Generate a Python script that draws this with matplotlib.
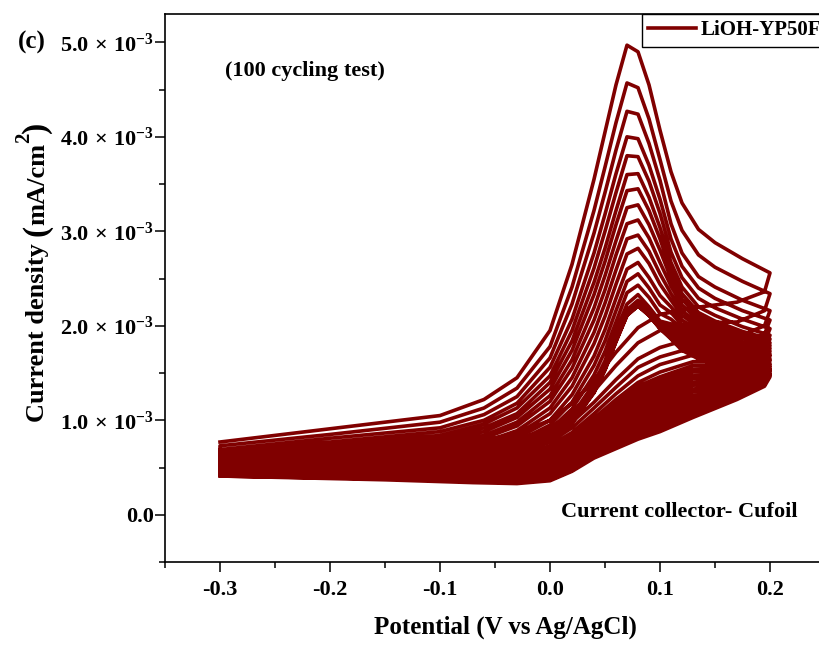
import numpy as np
import matplotlib
matplotlib.use("Agg")
import matplotlib.pyplot as plt
from matplotlib.ticker import MultipleLocator, FuncFormatter

# potential grid of the anodic (forward) and cathodic (reverse) sweeps, V vs Ag/AgCl
E_fwd = [-0.30, -0.20, -0.10, -0.06, -0.03, 0.00, 0.02, 0.04, 0.05, 0.06,
         0.07, 0.08, 0.09, 0.10, 0.11, 0.12, 0.135, 0.15, 0.175, 0.20]
E_rev = [0.195, 0.17, 0.13, 0.10, 0.08, 0.06, 0.04, 0.02, 0.00, -0.03,
         -0.07, -0.15, -0.30]

# current density, 1e-3 mA/cm2, one row per recorded cycle
i_fwd = [
    [0.77, 0.91, 1.05, 1.22, 1.45, 1.95, 2.65, 3.55, 4.05, 4.55, 4.97, 4.90, 4.55, 4.07, 3.63, 3.30, 3.02, 2.88, 2.71, 2.56],
    [0.73, 0.85, 0.98, 1.13, 1.34, 1.78, 2.41, 3.22, 3.68, 4.15, 4.57, 4.52, 4.19, 3.76, 3.32, 3.01, 2.75, 2.62, 2.47, 2.34],
    [0.69, 0.81, 0.92, 1.06, 1.25, 1.66, 2.23, 2.98, 3.41, 3.86, 4.27, 4.24, 3.93, 3.54, 3.08, 2.77, 2.52, 2.41, 2.27, 2.16],
    [0.67, 0.77, 0.88, 1.00, 1.18, 1.56, 2.07, 2.77, 3.18, 3.61, 4.00, 3.98, 3.70, 3.34, 2.92, 2.63, 2.40, 2.29, 2.16, 2.06],
    [0.64, 0.74, 0.84, 0.96, 1.13, 1.47, 1.95, 2.61, 3.00, 3.41, 3.80, 3.79, 3.53, 3.19, 2.78, 2.51, 2.29, 2.19, 2.07, 1.97],
    [0.62, 0.71, 0.81, 0.92, 1.07, 1.40, 1.84, 2.46, 2.82, 3.22, 3.60, 3.61, 3.36, 3.04, 2.67, 2.41, 2.20, 2.11, 1.99, 1.90],
    [0.61, 0.69, 0.78, 0.88, 1.03, 1.33, 1.74, 2.33, 2.68, 3.07, 3.43, 3.45, 3.22, 2.92, 2.58, 2.34, 2.14, 2.05, 1.94, 1.86],
    [0.59, 0.66, 0.75, 0.84, 0.98, 1.26, 1.64, 2.19, 2.53, 2.90, 3.25, 3.28, 3.07, 2.80, 2.50, 2.28, 2.10, 2.02, 1.91, 1.82],
    [0.57, 0.64, 0.72, 0.81, 0.94, 1.20, 1.55, 2.06, 2.38, 2.75, 3.08, 3.12, 2.93, 2.67, 2.42, 2.22, 2.06, 1.98, 1.87, 1.79],
    [0.55, 0.61, 0.69, 0.77, 0.89, 1.13, 1.45, 1.93, 2.24, 2.59, 2.92, 2.96, 2.79, 2.55, 2.34, 2.16, 2.02, 1.94, 1.83, 1.76],
    [0.54, 0.59, 0.66, 0.74, 0.85, 1.07, 1.36, 1.81, 2.10, 2.44, 2.76, 2.82, 2.66, 2.44, 2.27, 2.11, 1.99, 1.91, 1.80, 1.73],
    [0.52, 0.57, 0.63, 0.70, 0.81, 1.00, 1.27, 1.68, 1.96, 2.29, 2.60, 2.67, 2.51, 2.32, 2.20, 2.06, 1.95, 1.87, 1.77, 1.70],
    [0.51, 0.55, 0.61, 0.67, 0.77, 0.95, 1.19, 1.58, 1.84, 2.16, 2.47, 2.55, 2.40, 2.22, 2.14, 2.01, 1.92, 1.84, 1.74, 1.68],
    [0.49, 0.53, 0.59, 0.65, 0.74, 0.90, 1.12, 1.48, 1.73, 2.04, 2.35, 2.43, 2.30, 2.13, 2.07, 1.97, 1.88, 1.81, 1.71, 1.65],
    [0.48, 0.51, 0.57, 0.62, 0.70, 0.86, 1.05, 1.39, 1.63, 1.94, 2.23, 2.33, 2.20, 2.05, 2.02, 1.93, 1.86, 1.78, 1.69, 1.63],
    [0.48, 0.51, 0.56, 0.61, 0.69, 0.84, 1.03, 1.36, 1.60, 1.90, 2.17, 2.27, 2.16, 2.02, 1.99, 1.90, 1.83, 1.76, 1.67, 1.60],
    [0.47, 0.50, 0.56, 0.61, 0.69, 0.83, 1.02, 1.34, 1.58, 1.88, 2.15, 2.25, 2.15, 2.00, 1.97, 1.87, 1.80, 1.73, 1.64, 1.58],
    [0.46, 0.49, 0.54, 0.59, 0.67, 0.81, 1.00, 1.33, 1.57, 1.87, 2.14, 2.24, 2.14, 2.00, 1.95, 1.85, 1.77, 1.71, 1.62, 1.56],
    [0.46, 0.49, 0.54, 0.59, 0.67, 0.81, 0.99, 1.32, 1.56, 1.86, 2.13, 2.23, 2.13, 1.99, 1.93, 1.83, 1.75, 1.69, 1.60, 1.54],
    [0.45, 0.48, 0.53, 0.58, 0.66, 0.80, 0.99, 1.31, 1.55, 1.85, 2.13, 2.23, 2.13, 1.99, 1.92, 1.81, 1.73, 1.67, 1.58, 1.53],
    [0.45, 0.48, 0.53, 0.58, 0.66, 0.80, 0.98, 1.31, 1.55, 1.85, 2.12, 2.22, 2.12, 1.98, 1.90, 1.79, 1.71, 1.65, 1.56, 1.51],
    [0.44, 0.47, 0.52, 0.57, 0.65, 0.79, 0.98, 1.30, 1.54, 1.84, 2.12, 2.22, 2.12, 1.98, 1.89, 1.78, 1.69, 1.63, 1.55, 1.49],
    [0.44, 0.47, 0.52, 0.57, 0.65, 0.79, 0.97, 1.30, 1.54, 1.84, 2.11, 2.21, 2.11, 1.97, 1.87, 1.76, 1.67, 1.61, 1.53, 1.48],
    [0.43, 0.46, 0.51, 0.56, 0.64, 0.78, 0.97, 1.29, 1.53, 1.83, 2.11, 2.21, 2.11, 1.97, 1.86, 1.74, 1.65, 1.59, 1.51, 1.46],
]
i_rev = [
    [2.36, 2.25, 2.19, 2.12, 1.98, 1.72, 1.42, 1.18, 1.00, 0.86, 0.76, 0.66, 0.56],
    [2.16, 2.04, 2.03, 1.95, 1.82, 1.58, 1.31, 1.08, 0.91, 0.79, 0.70, 0.62, 0.54],
    [2.00, 1.88, 1.87, 1.77, 1.65, 1.43, 1.19, 0.98, 0.82, 0.71, 0.64, 0.58, 0.52],
    [1.91, 1.78, 1.77, 1.67, 1.56, 1.35, 1.13, 0.92, 0.77, 0.67, 0.61, 0.56, 0.51],
    [1.82, 1.70, 1.69, 1.59, 1.47, 1.28, 1.07, 0.87, 0.73, 0.63, 0.58, 0.54, 0.50],
    [1.76, 1.63, 1.62, 1.51, 1.40, 1.22, 1.02, 0.83, 0.69, 0.60, 0.55, 0.52, 0.49],
    [1.72, 1.59, 1.58, 1.46, 1.36, 1.18, 0.99, 0.80, 0.66, 0.58, 0.54, 0.51, 0.48],
    [1.69, 1.56, 1.54, 1.43, 1.32, 1.15, 0.96, 0.78, 0.64, 0.56, 0.53, 0.50, 0.48],
    [1.66, 1.53, 1.51, 1.39, 1.28, 1.12, 0.94, 0.76, 0.62, 0.55, 0.51, 0.49, 0.47],
    [1.63, 1.50, 1.47, 1.35, 1.25, 1.09, 0.91, 0.73, 0.60, 0.53, 0.50, 0.48, 0.47],
    [1.61, 1.47, 1.44, 1.31, 1.21, 1.06, 0.89, 0.71, 0.58, 0.52, 0.49, 0.47, 0.46],
    [1.58, 1.45, 1.40, 1.28, 1.18, 1.03, 0.86, 0.69, 0.57, 0.50, 0.47, 0.46, 0.46],
    [1.56, 1.42, 1.37, 1.24, 1.14, 1.00, 0.84, 0.67, 0.55, 0.48, 0.46, 0.45, 0.45],
    [1.53, 1.40, 1.33, 1.20, 1.11, 0.97, 0.81, 0.65, 0.53, 0.47, 0.45, 0.45, 0.45],
    [1.51, 1.38, 1.30, 1.17, 1.07, 0.94, 0.79, 0.63, 0.51, 0.45, 0.44, 0.44, 0.45],
    [1.49, 1.35, 1.26, 1.13, 1.04, 0.90, 0.76, 0.60, 0.49, 0.44, 0.42, 0.43, 0.44],
    [1.47, 1.33, 1.23, 1.09, 1.00, 0.87, 0.74, 0.58, 0.47, 0.42, 0.41, 0.42, 0.44],
    [1.45, 1.31, 1.20, 1.06, 0.97, 0.85, 0.72, 0.56, 0.45, 0.41, 0.40, 0.41, 0.43],
    [1.44, 1.30, 1.17, 1.03, 0.94, 0.82, 0.70, 0.55, 0.44, 0.39, 0.39, 0.41, 0.43],
    [1.42, 1.28, 1.14, 1.00, 0.91, 0.80, 0.68, 0.53, 0.42, 0.38, 0.38, 0.40, 0.42],
    [1.41, 1.27, 1.11, 0.97, 0.88, 0.77, 0.66, 0.51, 0.41, 0.37, 0.37, 0.39, 0.42],
    [1.39, 1.25, 1.08, 0.94, 0.85, 0.75, 0.64, 0.49, 0.39, 0.35, 0.36, 0.38, 0.42],
    [1.38, 1.24, 1.05, 0.91, 0.82, 0.72, 0.62, 0.47, 0.37, 0.34, 0.35, 0.38, 0.41],
    [1.36, 1.22, 1.03, 0.88, 0.80, 0.70, 0.60, 0.46, 0.36, 0.33, 0.34, 0.37, 0.41],
]

# one continuous trace, cycle after cycle
E, I = [], []
for f, r in zip(i_fwd, i_rev):
    E += E_fwd + E_rev
    I += f + r
I = np.array(I) * 1e-3

plt.rcParams['font.family'] = ['Liberation Serif', 'DejaVu Serif']
plt.rcParams['font.weight'] = 'bold'
plt.rcParams['axes.labelweight'] = 'bold'
plt.rcParams['mathtext.fontset'] = 'custom'
plt.rcParams['mathtext.rm'] = 'Liberation Serif:bold'
plt.rcParams['mathtext.bf'] = 'Liberation Serif:bold'
plt.rcParams['mathtext.it'] = 'Liberation Serif:bold:italic'

W, H = 819, 646
fig = plt.figure(figsize=(W / 100, H / 100), dpi=100, facecolor='w')
ax = fig.add_axes([165 / W, 84 / H, 660 / W, 548 / H])

ax.plot(E, I, color='#800000', lw=2.6, label='LiOH-YP50F')

ax.set_xlim(-0.35, 0.25)
ax.set_ylim(-0.0005, 0.0053)
ax.xaxis.set_major_locator(MultipleLocator(0.1))
ax.xaxis.set_minor_locator(MultipleLocator(0.05))
ax.yaxis.set_major_locator(MultipleLocator(0.001))
ax.yaxis.set_minor_locator(MultipleLocator(0.0005))

def ytick(v, pos):
    if abs(v) < 1e-9:
        return '0.0'
    return r'$%.1f\,\times\,10^{-3}$' % (v * 1e3)

ax.yaxis.set_major_formatter(FuncFormatter(ytick))
ax.xaxis.set_major_formatter(FuncFormatter(lambda v, p: '%.1f' % v if abs(v) > 1e-9 else '0.0'))

ax.tick_params(which='major', direction='out', length=7, width=1.1, labelsize=16, pad=1)
ax.tick_params(which='minor', direction='out', length=4, width=1.1)
ax.tick_params(axis='x', which='major', pad=6)
for s in ax.spines.values():
    s.set_linewidth(1.2)

ax.set_xlabel('Potential (V vs Ag/AgCl)', fontsize=18)
ax.xaxis.set_label_coords((505 - 165) / 660, -0.098)

leg = ax.legend(loc='upper left', bbox_to_anchor=((642 - 165) / 660, 1.0), borderaxespad=0,
                fontsize=15, fancybox=False, framealpha=1, edgecolor='black',
                handlelength=2.3, handletextpad=0.2, borderpad=0.3)
leg.get_frame().set_linewidth(1.0)

# y label built piece by piece so the brackets can be drawn taller than the text
ylabel_parts = [('Current density ', 19, 0), ('(', 24, 1), ('mA/cm', 19, 0), ('2', 15, -15), (')', 24, 1)]
renderer = fig.canvas.get_renderer()
y = H - 422
for txt, size, dx in ylabel_parts:
    t = fig.text((44 + dx) / W, y / H, txt, fontsize=size, rotation=90,
                 rotation_mode='anchor', ha='left', va='baseline')
    y += t.get_window_extent(renderer).height

fig.text(18 / W, 1 - 42 / H, '(c)', fontsize=18, va='center', ha='left')
fig.text(225 / W, 1 - 71 / H, '(100 cycling test)', fontsize=16, va='center', ha='left')
fig.text(561 / W, 1 - 512 / H, 'Current collector- Cufoil', fontsize=16, va='center', ha='left')

fig.savefig('out.png', dpi=100)
